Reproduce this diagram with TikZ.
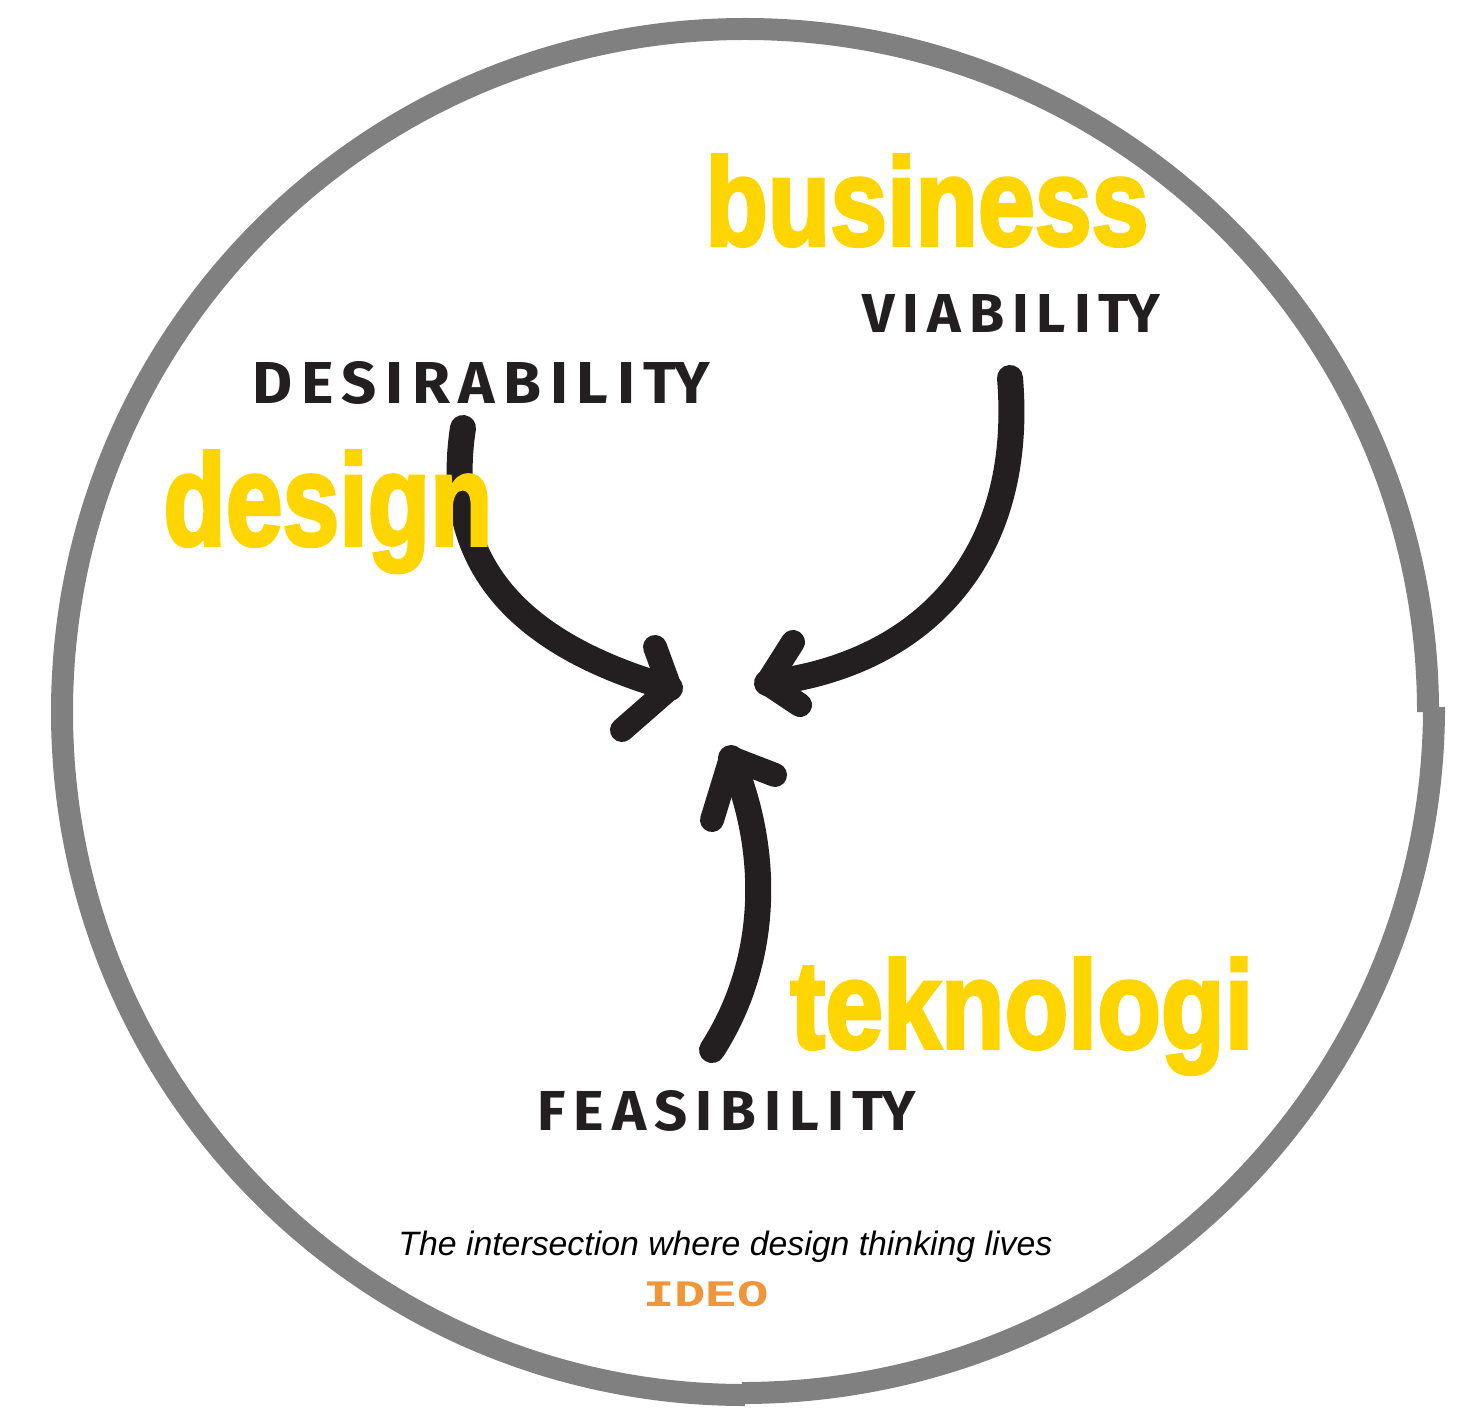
\documentclass[tikz,border=0pt]{standalone}
\usepackage{fontspec}
\setmainfont{Liberation Sans}
\newfontfamily\heavyfont{Liberation Sans}[BoldFeatures={FakeBold=3}]
\newfontfamily\handfont{Fira Sans}[LetterSpace=14]
\newfontfamily\monofnt{Liberation Mono}
\definecolor{ringgray}{HTML}{808080}
\definecolor{ink}{HTML}{231F20}
\definecolor{biz}{HTML}{FFD500}
\definecolor{ideo}{HTML}{F0963A}
\tikzset{
  ring/.style={draw=ringgray, line width=11pt, line cap=butt},
  shaft/.style={draw=ink, line width=13pt, line cap=round},
  chevron/.style={draw=ink, line width=12pt, line cap=round, line join=round},
  bigword/.style={anchor=base west, inner sep=0pt, text=biz, font=\heavyfont\bfseries},
  handword/.style={anchor=base west, inner sep=0pt, text=ink, font=\handfont\bfseries},
}
\begin{document}
\begin{tikzpicture}[x=0.5pt,y=-0.5pt]
\useasboundingbox (0,0) rectangle (1459,1411);
% ring
\draw[ring] (1428,712) arc[start angle=0, end angle=-270, radius=683];
\draw[ring] (742,1393) arc[start angle=90, end angle=0, x radius=692, y radius=686];
% arrow end points
\coordinate (tailL) at (463,428);
\coordinate (tipL) at (670,688);
\coordinate (armL1) at (655,647);
\coordinate (armL2) at (622,730);
\coordinate (tailR) at (1010,378);
\coordinate (tipR) at (767,683);
\coordinate (armR1) at (793,642);
\coordinate (armR2) at (800,705);
\coordinate (tailB) at (712,1050);
\coordinate (tipB) at (731,758);
\coordinate (armB1) at (712,820);
\coordinate (armB2) at (775,775);
% shafts
\draw[shaft] (tailL) .. controls (442,565) and (520,645) .. (tipL);
\draw[shaft] (tailR) .. controls (1025,560) and (920,665) .. (tipR);
\draw[shaft] (tailB) .. controls (770,960) and (770,850) .. (tipB);
% heads
\draw[chevron] (armL1) -- (tipL) -- (armL2);
\draw[chevron] (armR1) -- (tipR) -- (armR2);
\draw[chevron] (armB1) -- (tipB) -- (armB2);
% big words
\node[bigword] (business) at (705,245) {\resizebox{221.5pt}{45pt}{business}};
\node[bigword] (design) at (163,545) {\resizebox{164.5pt}{47pt}{design}};
\node[bigword] (teknologi) at (790,1048) {\resizebox{231.5pt}{45pt}{teknologi}};
% hand labels
\node[handword] (desir) at (252,403) {\resizebox{229pt}{21pt}{DESIRABILIT\kern-0.05emY}};
\node[handword] (viab) at (862,333) {\resizebox{149pt}{19pt}{VIABILIT\kern-0.05emY}};
\node[handword] (feas) at (537,1130) {\resizebox{189pt}{20pt}{FEASIBILIT\kern-0.05emY}};
% caption
\node[anchor=base west, inner sep=0pt, text=black] (caption) at (398,1255) {\resizebox{327pt}{!}{\itshape The intersection where design thinking lives}};
\node[anchor=base west, inner sep=0pt, text=ideo] (logo) at (643,1306) {\resizebox{62.5pt}{12.5pt}{\monofnt\bfseries IDEO}};
\end{tikzpicture}
\end{document}
